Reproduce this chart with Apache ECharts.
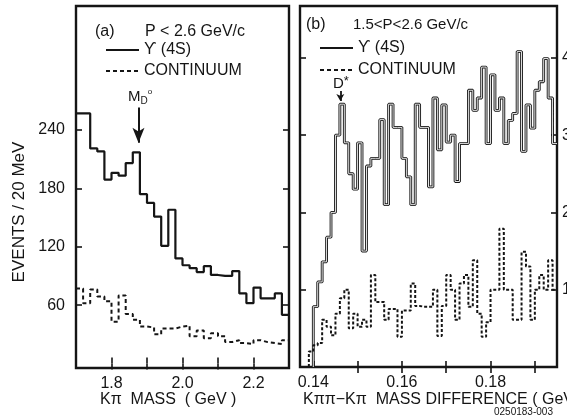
<!DOCTYPE html>
<html>
<head>
<meta charset="utf-8">
<script src="https://cdn.jsdelivr.net/npm/echarts@6/dist/echarts.min.js"></script>
<style>
html,body{margin:0;padding:0;background:#fff;}
#chart{width:567px;height:416px;}
</style>
</head>
<body>
<div id="chart"></div>
<script>
// ---------- DATA ----------
// Panel (a): K-pi mass histogram, 20 MeV bins (bin edges in GeV)
const massEdgesA = [1.70,1.72,1.74,1.76,1.78,1.80,1.82,1.84,1.86,1.88,1.90,1.92,1.94,1.96,1.98,2.00,
                    2.02,2.04,2.06,2.08,2.10,2.12,2.14,2.16,2.18,2.20,2.22,2.24,2.26,2.28,2.30];
const upsilonA   = [257,257,221,218,189,196,193,206,217,174,165,151,121,158,108,
                    101,98,94,100,91,90,90,95,72,62,78,67,67,72,50];
const continuumA = [77,62,76,69,64,43,70,51,45,38,37,30,36,36,38,
                    39,28,34,26,31,28,22,24,21,20,24,22,21,20,24];

// Panel (b): K-pi-pi minus K-pi mass difference, 1 MeV bins (bin edges in GeV)
const diffEdgesB = [0.139,0.140,0.141,0.142,0.143,0.144,0.145,0.146,0.147,0.148,0.149,
                    0.150,0.151,0.152,0.153,0.154,0.155,0.156,0.157,0.158,0.159,
                    0.160,0.161,0.162,0.163,0.164,0.165,0.166,0.167,0.168,0.169,
                    0.170,0.171,0.172,0.173,0.174,0.175,0.176,0.177,0.178,0.179,
                    0.180,0.181,0.182,0.183,0.184,0.185,0.186,0.187,0.188,0.189,
                    0.190,0.191,0.192,0.193,0.194,0.195];
// Upsilon(4S) histogram: bins start at 0.140
const upsilonB   = [7.8,11,13.6,16.8,20,30,34,29,25,23,29,15,26,27,27,32,21,34,31,31,
                    27,24.6,21,34,31,31,23.3,34.8,28.1,33.9,29.1,30.0,24.0,28.9,28.9,35.8,
                    33.2,34.8,38.8,28.9,37.8,33.2,34.8,28.9,31.9,32.8,40.8,27.9,33.9,30.9,
                    35.8,36.9,39.9,34.8,28.9];
// Continuum histogram: bins start at 0.139
const continuumB = [2.0,2.8,3.1,6.1,5.2,4.1,6.9,8.9,10,5.0,6.9,5.2,6.1,5.2,11.9,8.4,8.4,6.1,
                    7.5,7.5,3.9,7.3,7.3,10.8,7.9,7.8,7.8,7.8,10,4.0,7.9,11.9,10,6.1,10.8,
                    11.9,7.8,13.8,6.9,3.9,5.8,10,10,17.9,10,10,6.1,6.1,14.9,13,6.1,10,11.9,
                    10,13.8,10];

// Axis ticks / labels
const xTicksA  = [1.8,1.9,2.0,2.1,2.2];
const xLabelsA = [1.8,2.0,2.2];
const yTicksA  = [60,120,180,240];
const xTicksB  = [0.14,0.15,0.16,0.17,0.18,0.19];
const xLabelsB = [0.14,0.16,0.18];
const yTicksB  = [10,20,30,40];

// Annotation positions (data coordinates)
const markerD0   = 1.876;   // M_D0 arrow
const markerDst  = 0.1461;  // D* arrow

// ---------- CHART ----------
const FONT = '"Liberation Sans", "DejaVu Sans", sans-serif';
const INK = '#151515';

function stepData(edges, values, fromZero) {
  const d = [];
  if (fromZero) d.push([edges[0], 0]);
  for (let i = 0; i < values.length; i++) d.push([edges[i], values[i]]);
  d.push([edges[values.length], values[values.length - 1]]);
  return d;
}

const tickLine = {color: INK, width: 1.6};
function xAx(grid, min, max, pos, ticks, labels, dec) {
  return {
    gridIndex: grid, type: 'value', min: min, max: max, position: pos,
    axisLine: {show: false}, splitLine: {show: false},
    axisTick: {show: true, inside: true, length: 6, customValues: ticks, lineStyle: tickLine},
    axisLabel: labels ? {show: true, customValues: labels, formatter: v => v.toFixed(dec),
      margin: 8, fontSize: 16, fontFamily: FONT, color: INK} : {show: false}
  };
}
function yAx(grid, min, max, pos, ticks, labels, margin) {
  return {
    gridIndex: grid, type: 'value', min: min, max: max, position: pos,
    axisLine: {show: false}, splitLine: {show: false},
    axisTick: {show: true, inside: true, length: 6, customValues: ticks, lineStyle: tickLine},
    axisLabel: labels ? {show: true, customValues: labels, formatter: v => String(v),
      margin: margin, fontSize: 16, fontFamily: FONT, color: INK} : {show: false}
  };
}

const chart = echarts.init(document.getElementById('chart'), null, {renderer: 'canvas'});

const txt = (x, y, text, size, align, extra) => Object.assign({
  type: 'text', x: x, y: y, silent: true,
  style: Object.assign({text: text, font: size + 'px ' + FONT, fill: INK,
    textAlign: align || 'left', textVerticalAlign: 'middle',
    align: align || 'left', verticalAlign: 'middle'}, (extra && extra.style) || {})
}, extra && extra.el || {});

const legendBase = {orient: 'vertical', itemWidth: 33, itemHeight: 14, padding: 0,
  selectedMode: false, data: ['ϒ (4S)', 'CONTINUUM'],
  itemStyle: {opacity: 0, borderWidth: 0},
  textStyle: {fontFamily: FONT, fontSize: 16, color: INK}};

const option = {
  animation: false,
  backgroundColor: '#fff',
  grid: [
    {left: 76, top: 6, width: 213, height: 362, show: true, borderColor: INK, borderWidth: 2.4,
     backgroundColor: 'transparent', containLabel: false, outerBoundsMode: 'none'},
    {left: 300, top: 6, width: 257, height: 361, show: true, borderColor: INK, borderWidth: 2.4,
     backgroundColor: 'transparent', containLabel: false, outerBoundsMode: 'none'}
  ],
  xAxis: [
    xAx(0, 1.70, 2.30, 'bottom', xTicksA, xLabelsA, 1),
    xAx(0, 1.70, 2.30, 'top', xTicksA, null, 1),
    xAx(1, 0.137, 0.195, 'bottom', xTicksB, xLabelsB, 2),
    xAx(1, 0.137, 0.195, 'top', xTicksB.slice(1), null, 2)
  ],
  yAxis: [
    yAx(0, -4.6, 367.4, 'left', yTicksA, yTicksA, 11),
    yAx(0, -4.6, 367.4, 'right', yTicksA, null, 0),
    yAx(1, 0, 46.7, 'left', yTicksB, null, 0),
    yAx(1, 0, 46.7, 'right', yTicksB, yTicksB, 5)
  ],
  legend: [
    Object.assign({left: 105, top: 42, itemGap: 5}, legendBase),
    Object.assign({left: 319, top: 40, itemGap: 6}, legendBase)
  ],
  series: [
    {name: 'ϒ (4S)', type: 'line', xAxisIndex: 0, yAxisIndex: 0, step: 'end', symbol: 'none',
     lineStyle: {color: INK, width: 2.2}, itemStyle: {color: INK},
     data: stepData(massEdgesA, upsilonA, false),
     markLine: {silent: true, symbol: ['none', 'arrow'], symbolSize: [9, 15], animation: false,
       lineStyle: {color: INK, width: 2, type: 'solid'}, label: {show: false},
       data: [[{coord: [markerD0, 263]}, {coord: [markerD0, 227]}]]}},
    {name: 'CONTINUUM', type: 'line', xAxisIndex: 0, yAxisIndex: 0, step: 'end', symbol: 'none',
     lineStyle: {color: INK, width: 2, type: [4, 3]}, itemStyle: {color: INK},
     data: stepData(massEdgesA, continuumA, false)},
    {name: 'ϒ (4S)', type: 'line', xAxisIndex: 2, yAxisIndex: 2, step: 'end', symbol: 'none',
     lineStyle: {color: INK, width: 2.8}, itemStyle: {color: INK},
     data: stepData(diffEdgesB.slice(1), upsilonB, true),
     markLine: {silent: true, symbol: ['none', 'arrow'], symbolSize: [6, 7], animation: false,
       lineStyle: {color: INK, width: 1.8, type: 'solid'}, label: {show: false},
       data: [[{coord: [markerDst, 35.7]}, {coord: [markerDst, 34.4]}]]}},
    {name: 'ϒ (4S) inner', type: 'line', xAxisIndex: 2, yAxisIndex: 2, step: 'end', symbol: 'none',
     lineStyle: {color: '#ffffff', width: 0.9}, itemStyle: {color: '#fff'},
     data: stepData(diffEdgesB.slice(1), upsilonB, true)},
    {name: 'CONTINUUM', type: 'line', xAxisIndex: 2, yAxisIndex: 2, step: 'end', symbol: 'none',
     lineStyle: {color: INK, width: 2, type: [3, 2]}, itemStyle: {color: INK},
     data: stepData(diffEdgesB, continuumB, true)}
  ],
  graphic: [
    txt(95, 32, '(a)', 16),
    txt(145, 32, 'P < 2.6 GeV/c', 16),
    txt(306, 25, '(b)', 16),
    txt(353, 25, '1.5<P<2.6 GeV/c', 15),
    {type: 'text', x: 128, y: 97, silent: true,
     style: {text: '{m|M}{s|D}{o|o}', fill: INK, textVerticalAlign: 'middle', verticalAlign: 'middle',
       rich: {m: {fontSize: 15, fontFamily: FONT, fill: INK, color: INK, lineHeight: 18, verticalAlign: 'middle'},
              s: {fontSize: 10, fontFamily: FONT, fill: INK, color: INK, lineHeight: 18, verticalAlign: 'bottom'},
              o: {fontSize: 8, fontFamily: FONT, fill: INK, color: INK, lineHeight: 18, verticalAlign: 'top'}}}},
    {type: 'text', x: 333, y: 84, silent: true,
     style: {text: '{d|D}{s|*}', fill: INK, textVerticalAlign: 'middle', verticalAlign: 'middle',
       rich: {d: {fontSize: 15, fontFamily: FONT, fill: INK, color: INK, lineHeight: 18, verticalAlign: 'middle'},
              s: {fontSize: 13, fontFamily: FONT, fill: INK, color: INK, lineHeight: 18, verticalAlign: 'top'}}}},
    txt(19, 212, 'EVENTS / 20 MeV', 17, 'center', {el: {rotation: Math.PI / 2}}),
    txt(100, 400, 'Kπ  MASS  ( GeV )', 16),
    txt(303, 400, 'Kππ−Kπ  MASS DIFFERENCE ( GeV )', 16),
    txt(494, 412, '0250183-003', 10)
  ]
};
chart.setOption(option);
</script>
</body>
</html>
